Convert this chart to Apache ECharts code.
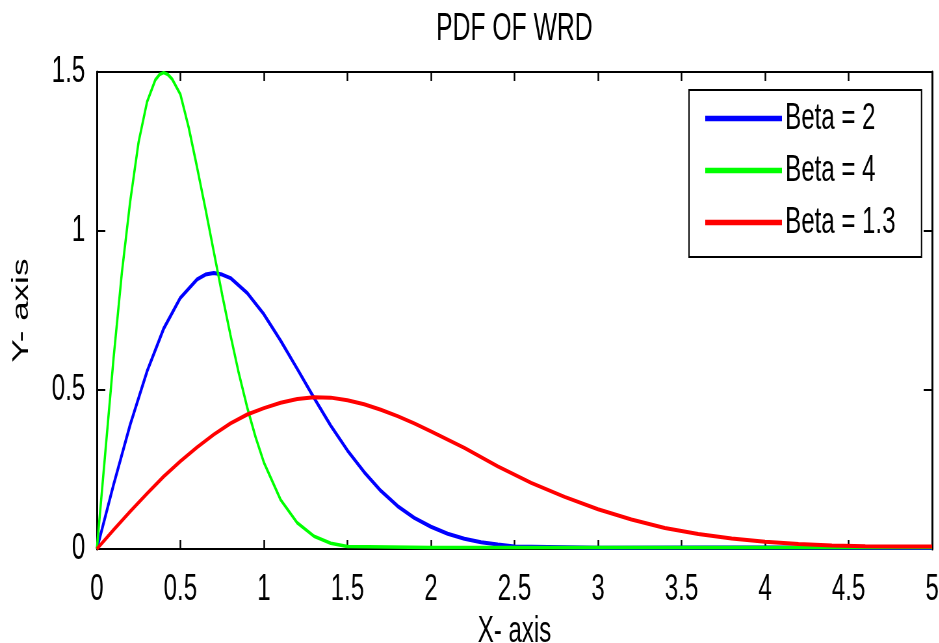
<!DOCTYPE html>
<html>
<head>
<meta charset="utf-8">
<script src="https://cdn.jsdelivr.net/npm/echarts@6/dist/echarts.min.js"></script>
<style>
  html, body { margin: 0; padding: 0; background: #fff; overflow: hidden; }
  /* the reference is a horizontally squeezed MATLAB figure, so draw wide and squeeze */
  #chart { width: 1445px; height: 643px; transform: scaleX(0.65); transform-origin: 0 0; }
</style>
</head>
<body>
<div id="chart"></div>
<script>
// values
var xBlue = [0, 0.1, 0.2, 0.3, 0.4, 0.5, 0.6, 0.65, 0.7, 0.75, 0.8, 0.9, 1.0, 1.1, 1.2, 1.3, 1.4, 1.5, 1.6, 1.7, 1.8, 1.9, 2.0, 2.1, 2.2, 2.3, 2.4, 2.5, 3.0, 3.65, 4.05, 5.0];
var yBlue = [0, 0.202, 0.392, 0.558, 0.693, 0.79, 0.848, 0.863, 0.868, 0.863, 0.852, 0.805, 0.738, 0.655, 0.566, 0.475, 0.388, 0.31, 0.242, 0.183, 0.135, 0.098, 0.07, 0.048, 0.032, 0.021, 0.014, 0.008, 0.004, 0.005, 0.005, 0.003];

var xGreen = [0, 0.05, 0.1, 0.15, 0.2, 0.25, 0.3, 0.35, 0.375, 0.4, 0.425, 0.45, 0.5, 0.55, 0.6, 0.65, 0.7, 0.75, 0.8, 0.85, 0.9, 0.95, 1.0, 1.1, 1.2, 1.3, 1.4, 1.5, 2.0, 3.0, 4.0, 5.0];
var yGreen = [0, 0.3, 0.6, 0.87, 1.095, 1.28, 1.405, 1.475, 1.492, 1.498, 1.492, 1.478, 1.43, 1.325, 1.2, 1.07, 0.935, 0.8, 0.672, 0.552, 0.445, 0.352, 0.272, 0.155, 0.082, 0.04, 0.018, 0.008, 0.005, 0.005, 0.005, 0.005];

var xRed = [0, 0.1, 0.2, 0.3, 0.4, 0.5, 0.6, 0.7, 0.8, 0.9, 1.0, 1.1, 1.2, 1.3, 1.4, 1.5, 1.6, 1.7, 1.8, 1.9, 2.0, 2.2, 2.4, 2.6, 2.8, 3.0, 3.2, 3.4, 3.6, 3.8, 4.0, 4.2, 4.4, 4.6, 4.8, 5.0];
var yRed = [0, 0.06, 0.118, 0.174, 0.228, 0.276, 0.32, 0.36, 0.395, 0.423, 0.443, 0.46, 0.472, 0.477, 0.476, 0.468, 0.455, 0.438, 0.418, 0.395, 0.37, 0.318, 0.26, 0.208, 0.164, 0.125, 0.093, 0.066, 0.047, 0.033, 0.023, 0.016, 0.011, 0.009, 0.008, 0.008];

var seriesNames = ['Beta = 2', 'Beta = 4', 'Beta = 1.3'];
var seriesColors = ['#0000ff', '#00ff00', '#ff0000'];

var SX = 0.65;          // horizontal squeeze applied in css
var font = '"Liberation Sans", Arial, sans-serif';

// screen x in the photo -> x inside the wide, unsqueezed canvas
var wx = function (px) {
    return Math.round(px / SX);
};

var pairs = function (xs, ys) {
    var out = [];
    for (var i = 0; i < xs.length; i++) {
        out.push([xs[i], ys[i]]);
    }
    return out;
};

var chart = echarts.init(document.getElementById('chart'));

// box round the plot, ticks pointing inwards on all four sides
var xBox = function (position) {
    return {
        type: 'value', min: 0, max: 5, interval: 0.5, position: position,
        axisLine: { show: true, onZero: false, lineStyle: { color: '#000', width: 2 } },
        axisTick: { show: true, inside: true, length: 9, lineStyle: { color: '#000', width: 2.5 } },
        splitLine: { show: false }
    };
};
var yBox = function (position) {
    return {
        type: 'value', min: 0, max: 1.5, interval: 0.5, position: position,
        axisLine: { show: true, onZero: false, lineStyle: { color: '#000', width: 3 } },
        axisTick: { show: true, inside: true, length: 13, lineStyle: { color: '#000', width: 2 } },
        splitLine: { show: false }
    };
};

var xBottom = Object.assign(xBox('bottom'), {
    name: 'X- axis', nameLocation: 'middle', nameGap: 62,
    nameTextStyle: { fontFamily: font, fontSize: 37, color: '#000' },
    axisLabel: { fontFamily: font, fontSize: 37, color: '#000', margin: 22 }
});
var xTop = Object.assign(xBox('top'), { axisLabel: { show: false } });
var yLeft = Object.assign(yBox('left'), {
    name: 'Y- axis', nameLocation: 'middle', nameGap: 98, nameRotate: 90,
    nameTextStyle: { fontFamily: font, fontSize: 35, color: '#000' },
    axisLabel: { fontFamily: font, fontSize: 37, color: '#000', margin: 18 }
});
var yRight = Object.assign(yBox('right'), { axisLabel: { show: false } });

var option = {
    animation: false,
    backgroundColor: '#fff',
    title: {
        text: 'PDF OF WRD',
        left: wx(436) - 5,
        top: 6,
        textStyle: { fontFamily: font, fontSize: 38, fontWeight: 'normal', color: '#000' }
    },
    legend: {
        orient: 'vertical',
        left: wx(689),
        top: 90,
        padding: [10, 40, 16, 25],
        itemGap: 15,
        itemWidth: wx(77),
        itemHeight: 5.5,
        icon: 'rect',
        borderColor: '#000',
        borderWidth: 2,
        backgroundColor: '#fff',
        data: seriesNames,
        textStyle: { fontFamily: font, fontSize: 37, lineHeight: 37, color: '#000' }
    },
    grid: { left: wx(97), right: wx(7), top: 72, bottom: 94, containLabel: false, outerBoundsMode: 'none' },
    xAxis: [xBottom, xTop],
    yAxis: [yLeft, yRight],
    series: [
        {
            name: seriesNames[0], type: 'line', showSymbol: false, symbol: 'none',
            color: seriesColors[0], lineStyle: { width: 4, color: seriesColors[0] },
            data: pairs(xBlue, yBlue), z: 3
        },
        {
            name: seriesNames[1], type: 'line', showSymbol: false, symbol: 'none',
            color: seriesColors[1], lineStyle: { width: 3.5, color: seriesColors[1] },
            data: pairs(xGreen, yGreen), z: 4
        },
        {
            name: seriesNames[2], type: 'line', showSymbol: false, symbol: 'none',
            color: seriesColors[2], lineStyle: { width: 4, color: seriesColors[2] },
            data: pairs(xRed, yRed), z: 5
        }
    ]
};

chart.setOption(option);
</script>
</body>
</html>
